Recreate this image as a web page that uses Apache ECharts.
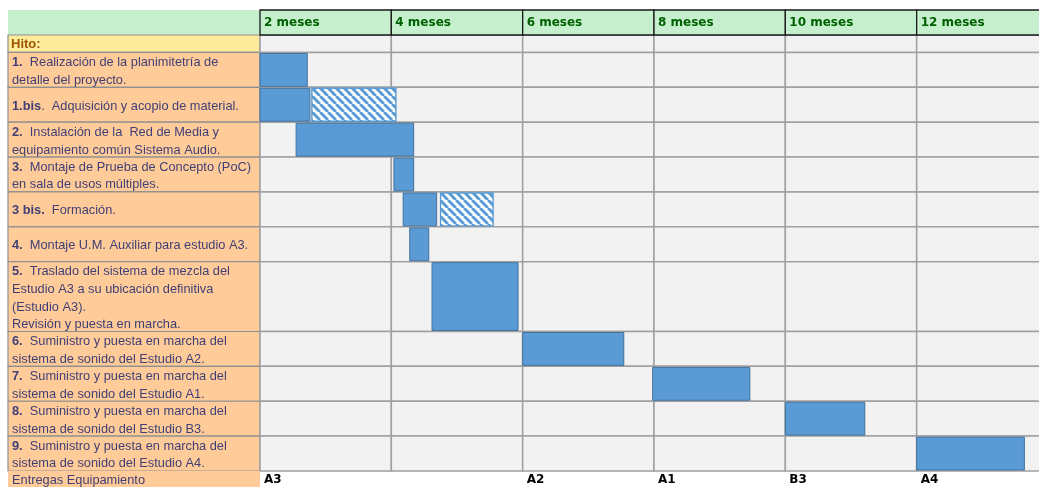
<!DOCTYPE html>
<html><head><meta charset="utf-8">
<script src="https://cdn.jsdelivr.net/npm/echarts@6/dist/echarts.min.js"></script>
<style>html,body{margin:0;padding:0;background:#fff}#c{width:1039px;height:487px}</style>
</head><body><div id="c"></div>
<script>
// ---------- data ----------
const columnLabels = ['2 meses', '4 meses', '6 meses', '8 meses', '10 meses', '12 meses'];
const columnStarts = [0, 2, 4, 6, 8, 10]; // months
const hitoTitle = 'Hito:';
const taskNums = ['1.', '1.bis', '2.', '3.', '3 bis.', '4.', '5.', '6.', '7.', '8.', '9.'];
const taskTexts = [
  '  Realización de la planimitetría de\ndetalle del proyecto.',
  '.  Adquisición y acopio de material.',
  '  Instalación de la  Red de Media y\nequipamiento común Sistema Audio.',
  '  Montaje de Prueba de Concepto (PoC)\nen sala de usos múltiples.',
  '  Formación.',
  '  Montaje U.M. Auxiliar para estudio A3.',
  '  Traslado del sistema de mezcla del\nEstudio A3 a su ubicación definitiva\n(Estudio A3).\nRevisión y puesta en marcha.',
  '  Suministro y puesta en marcha del\nsistema de sonido del Estudio A2.',
  '  Suministro y puesta en marcha del\nsistema de sonido del Estudio A1.',
  '  Suministro y puesta en marcha del\nsistema de sonido del Estudio B3.',
  '  Suministro y puesta en marcha del\nsistema de sonido del Estudio A4.'
];
// bar segments (months from start)
const segTask    = [0,    1,    1,    2,    3,    4,    4,    5,    6,    7,    8,    9,    10];
const segStart   = [0,    0,    0.79, 0.55, 2.04, 2.18, 2.75, 2.28, 2.62, 4.0,  5.98, 8.0,  10.0];
const segEnd     = [0.72, 0.76, 2.07, 2.34, 2.34, 2.69, 3.55, 2.57, 3.93, 5.54, 7.46, 9.21, 11.64];
const segPlanned = [false,false,true, false,false,false,true, false,false,false,false,false,false];
const deliveryTitle = 'Entregas Equipamiento';
const deliveryMonths = [0, 4, 6, 8, 10];
const deliveryLabels = ['A3', 'A2', 'A1', 'B3', 'A4'];

// ---------- derived row structure ----------
const rowHeights = [1].concat(taskTexts.map(t => Math.max(2, t.split('\n').length)));
const rowY0 = [], rowY1 = [];
let acc = 0;
rowHeights.forEach(h => { rowY0.push(acc); acc += h; rowY1.push(acc); });
const totalUnits = acc; // 25

const rowsData = rowHeights.map((h, i) => [i, rowY0[i], rowY1[i]]);
const segData = segTask.map((t, i) => [segStart[i], segEnd[i], rowY0[t + 1], rowY1[t + 1], segPlanned[i] ? 1 : 0]);

// ---------- styles ----------
const FONT = 'Liberation Sans';
const FS = 12.8;
const C = {
  inputFill: '#FFCC99', inputText: '#3F3F76', inputBorder: '#8F8F8F',
  neutralFill: '#FFEB9C', neutralText: '#9C5700',
  goodFill: '#C6EFCE', goodText: '#006100',
  cellFill: '#F2F2F2', cellBorder: '#A0A0A0',
  bar: '#5B9BD5', barBorder: '#41719C'
};
const LEFT = 8;

function makeHatch() {
  const s = 8, cv = document.createElement('canvas');
  cv.width = s; cv.height = s;
  const g = cv.getContext('2d');
  g.fillStyle = '#fff'; g.fillRect(0, 0, s, s);
  g.strokeStyle = C.bar; g.lineWidth = 3;
  for (const k of [-s, 0, s]) { g.beginPath(); g.moveTo(k, 0); g.lineTo(k + s, s); g.stroke(); }
  return cv;
}
const hatch = { image: makeHatch(), repeat: 'repeat' };

function renderRow(params, api) {
  const i = api.value(0), y0 = api.value(1), y1 = api.value(2);
  const a = api.coord([0, y0]), b = api.coord([0, y1]);
  const top = a[1], h = b[1] - a[1];
  const ch = [];
  const isHito = i === 0;
  ch.push({ type: 'rect', shape: { x: LEFT, y: top, width: a[0] - LEFT, height: h },
    style: { fill: isHito ? C.neutralFill : C.inputFill, stroke: C.inputBorder, lineWidth: 1.2 } });
  columnStarts.forEach(m => {
    const p = api.coord([m, y0]), q = api.coord([m + 2, y1]);
    ch.push({ type: 'rect', shape: { x: p[0], y: p[1], width: q[0] - p[0], height: q[1] - p[1] },
      style: { fill: C.cellFill, stroke: C.cellBorder, lineWidth: 1.5 } });
  });
  if (isHito) {
    ch.push({ type: 'text', style: { text: hitoTitle, x: LEFT + 3, y: top + h / 2 + 1, verticalAlign: 'middle',
      fill: C.neutralText, fontFamily: FONT, fontSize: 13, fontWeight: 'bold' } });
  } else {
    const k = i - 1;
    ch.push({ type: 'text', style: {
      text: '{b|' + taskNums[k] + '}' + taskTexts[k],
      x: LEFT + 4, y: top + h / 2 + 1.5, verticalAlign: 'middle', align: 'left',
      fill: C.inputText, fontFamily: FONT, fontSize: FS, lineHeight: 17.8,
      rich: { b: { fontWeight: 'bold', fill: C.inputText, fontFamily: FONT, fontSize: FS, lineHeight: 17.8 } }
    } });
  }
  return { type: 'group', children: ch };
}

function renderBar(params, api) {
  const p = api.coord([api.value(0), api.value(2)]);
  const q = api.coord([api.value(1), api.value(3)]);
  const planned = api.value(4) === 1;
  return { type: 'rect', shape: { x: p[0], y: p[1] + 1, width: q[0] - p[0], height: q[1] - p[1] - 2 },
    style: planned ? { fill: hatch, stroke: C.bar, lineWidth: 1.4 } : { fill: C.bar, stroke: C.barBorder, lineWidth: 1 } };
}

function renderHeader(params, api) {
  const m = api.value(0);
  const p = api.coord([m, 0]), q = api.coord([m + 2, 0]);
  const top = p[1] - 25;
  return { type: 'group', children: [
    { type: 'rect', shape: { x: p[0], y: top, width: q[0] - p[0], height: 25 },
      style: { fill: C.goodFill, stroke: '#1a1a1a', lineWidth: 1.3 } },
    { type: 'text', style: { text: columnLabels[params.dataIndex], x: p[0] + 4, y: top + 13, verticalAlign: 'middle',
      fill: C.goodText, fontFamily: 'DejaVu Sans', fontSize: 12, fontWeight: 'bold' } }
  ] };
}

function renderDeliveryTitle(params, api) {
  const a = api.coord([0, totalUnits]);
  return { type: 'group', children: [
    { type: 'rect', shape: { x: LEFT, y: a[1], width: a[0] - LEFT, height: 18 }, style: { fill: C.inputFill } },
    { type: 'text', style: { text: deliveryTitle, x: LEFT + 4, y: a[1] + 9, verticalAlign: 'middle',
      fill: C.inputText, fontFamily: FONT, fontSize: FS } }
  ] };
}

function renderDelivery(params, api) {
  const p = api.coord([api.value(0), totalUnits]);
  return { type: 'text', style: { text: deliveryLabels[params.dataIndex], x: p[0] + 4, y: p[1] + 9,
    verticalAlign: 'middle', fill: '#000', fontFamily: 'DejaVu Sans', fontSize: 12, fontWeight: 'bold' } };
}

const chart = echarts.init(document.getElementById('c'), null, { renderer: 'canvas' });
chart.setOption({
  animation: false,
  backgroundColor: '#fff',
  grid: { left: 260, top: 35, width: 788, height: 436, containLabel: false, outerBoundsMode: 'none' },
  xAxis: { type: 'value', min: 0, max: 12, interval: 2, show: false },
  yAxis: { type: 'value', min: 0, max: totalUnits, inverse: true, show: false },
  graphic: [{ type: 'rect', shape: { x: LEFT, y: 10, width: 252, height: 25 }, style: { fill: C.goodFill }, z: 0 }],
  series: [
    { type: 'custom', name: 'rows', renderItem: renderRow, data: rowsData, clip: false, z: 1,
      encode: { x: -1, y: [1, 2] } },
    { type: 'custom', name: 'header', renderItem: renderHeader, data: columnStarts.map(m => [m]), clip: false, z: 1,
      encode: { x: 0 } },
    { type: 'custom', name: 'deliveryTitle', renderItem: renderDeliveryTitle, data: [[0]], clip: false, z: 1 },
    { type: 'custom', name: 'deliveries', renderItem: renderDelivery, data: deliveryMonths.map(m => [m]), clip: false, z: 2,
      encode: { x: 0 } },
    { type: 'custom', name: 'tareas', renderItem: renderBar, data: segData, clip: false, z: 3,
      encode: { x: [0, 1], y: [2, 3] } }
  ]
});
</script></body></html>
